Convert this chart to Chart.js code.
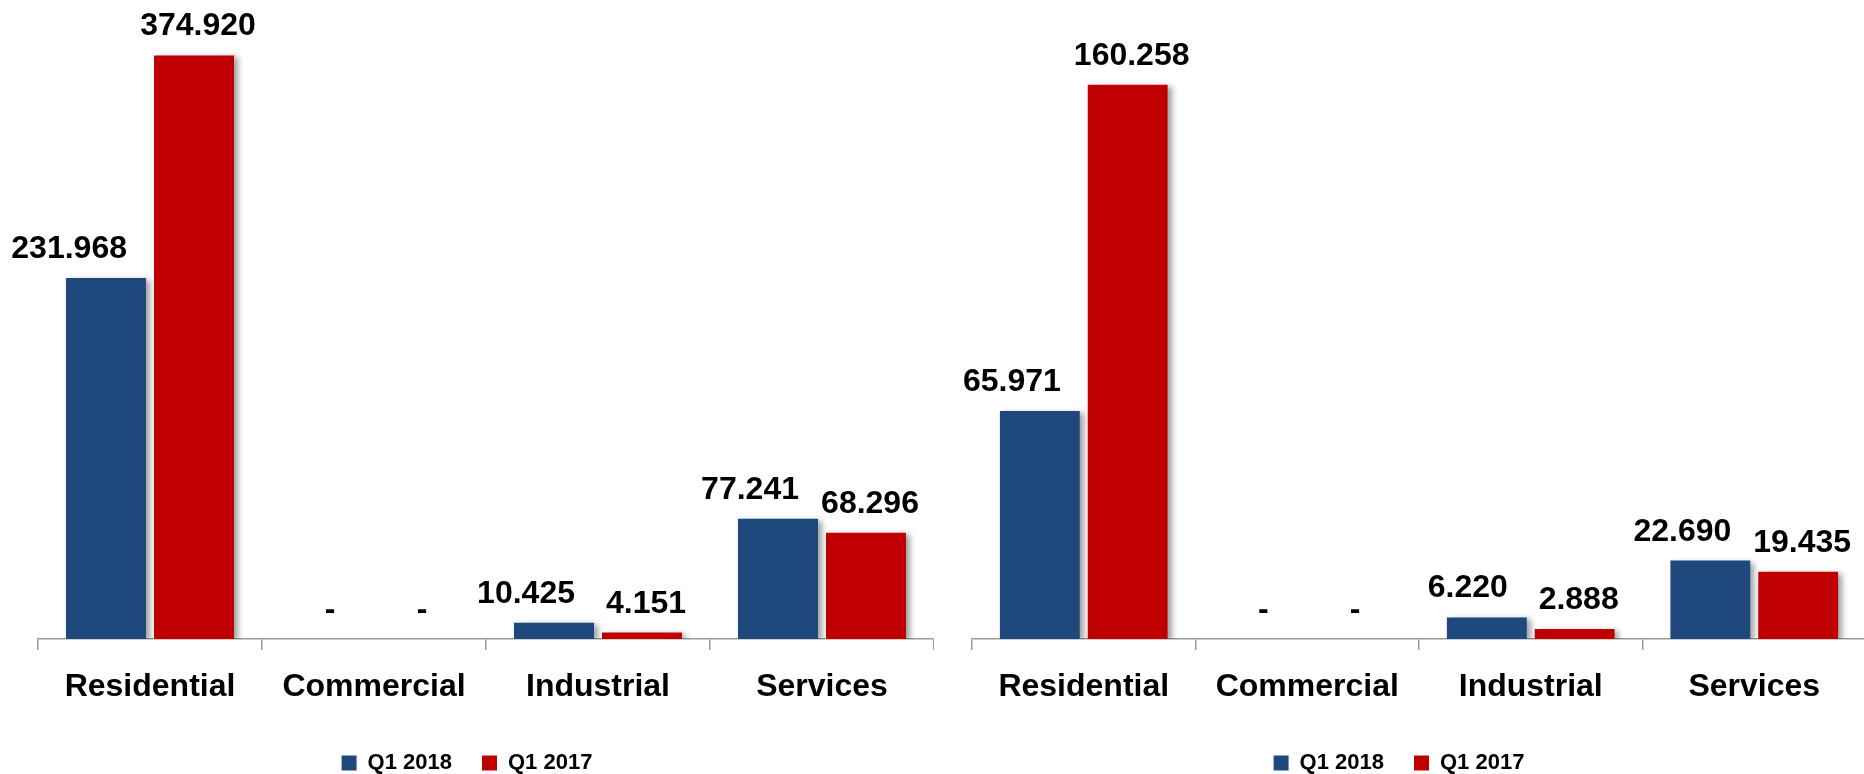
<!DOCTYPE html>
<html>
<head>
<meta charset="utf-8">
<script src="https://cdn.jsdelivr.net/npm/chart.js@4/dist/chart.umd.min.js"></script>
<style>
  html, body { margin: 0; padding: 0; background: #fff; overflow: hidden; width: 1864px; height: 774px; }
  canvas { position: absolute; top: 0; }
  #left { left: 0; }
  #right { left: 932px; }
</style>
</head>
<body>
<canvas id="left" width="934" height="774"></canvas>
<canvas id="right" width="934" height="774"></canvas>
<script>
// Categories and series
const categories = ['Residential', 'Commercial', 'Industrial', 'Services'];
const seriesNames = ['Q1 2018', 'Q1 2017'];

// Left panel values
const leftQ1_2018 = [231968, 0, 10425, 77241];
const leftQ1_2017 = [374920, 0, 4151, 68296];

// Right panel values
const rightQ1_2018 = [65971, 0, 6220, 22690];
const rightQ1_2017 = [160258, 0, 2888, 19435];

// Value-axis ranges (axis hidden)
const leftMax = 410500;
const rightMax = 184800;

const COLOR_2018 = '#1F497D';
const COLOR_2017 = '#C00000';
const AXIS_GRAY = '#9c9c9c';
const FONT = '"Liberation Sans", Arial, sans-serif';

// Thousands separator as a dot; zero shown as a dash
function fmt(v) {
  if (v === 0) return '-';
  return String(v).replace(/\B(?=(\d{3})+(?!\d))/g, '.');
}

// Soft drop shadow on the bars, then value labels above each bar
const barDecor = {
  id: 'barDecor',
  beforeDatasetsDraw(chart) {
    const ctx = chart.ctx;
    ctx.save();
    ctx.shadowColor = 'rgba(0,0,0,0.38)';
    ctx.shadowBlur = 6;
    ctx.shadowOffsetX = 4;
    ctx.shadowOffsetY = 2;
  },
  afterDatasetsDraw(chart) {
    const ctx = chart.ctx;
    ctx.restore();
    ctx.save();
    ctx.font = 'bold 32px ' + FONT;
    ctx.fillStyle = '#000';
    ctx.textAlign = 'center';
    ctx.textBaseline = 'alphabetic';
    chart.data.datasets.forEach((ds, di) => {
      chart.getDatasetMeta(di).data.forEach((bar, i) => {
        const text = fmt(ds.data[i]);
        const w = ctx.measureText(text).width;
        let x = bar.x;
        if (di === 0) x -= Math.max(0, w * 0.5 - 21);
        else x += 4;
        ctx.fillText(text, x, bar.y - 20);
      });
    });
    ctx.restore();
  }
};

function makeChart(id, data2018, data2017, yMax, yAxisWidth) {
  return new Chart(document.getElementById(id), {
    type: 'bar',
    data: {
      labels: categories,
      datasets: [
        { label: seriesNames[0], data: data2018, backgroundColor: COLOR_2018, borderWidth: 0 },
        { label: seriesNames[1], data: data2017, backgroundColor: COLOR_2017, borderWidth: 0 }
      ]
    },
    options: {
      responsive: false,
      animation: false,
      devicePixelRatio: 1,
      layout: { padding: { left: 0, right: 0, top: 0, bottom: -10 } },
      datasets: { bar: { categoryPercentage: 0.786, barPercentage: 0.909 } },
      scales: {
        x: {
          grid: { display: true, drawOnChartArea: false, drawTicks: true, tickLength: 11, color: AXIS_GRAY, lineWidth: 1.5, offset: true },
          border: { display: true, color: AXIS_GRAY, width: 1.5 },
          ticks: { padding: 18, color: '#000', font: { family: FONT, size: 32, weight: 'bold' }, maxRotation: 0, autoSkip: false },
          afterFit: s => { s.height = 83; }
        },
        y: {
          display: true,
          min: 0,
          max: yMax,
          grid: { display: false },
          border: { display: false },
          ticks: { display: false },
          afterFit: s => { s.width = yAxisWidth; }
        }
      },
      plugins: {
        legend: {
          position: 'bottom',
          labels: {
            boxWidth: 15,
            boxHeight: 15,
            padding: 30,
            color: '#000',
            font: { family: FONT, size: 22, weight: 'bold' }
          }
        },
        tooltip: { enabled: false }
      }
    },
    plugins: [barDecor]
  });
}

makeChart('left', leftQ1_2018, leftQ1_2017, leftMax, 38);
makeChart('right', rightQ1_2018, rightQ1_2017, rightMax, 40);
</script>
</body>
</html>
